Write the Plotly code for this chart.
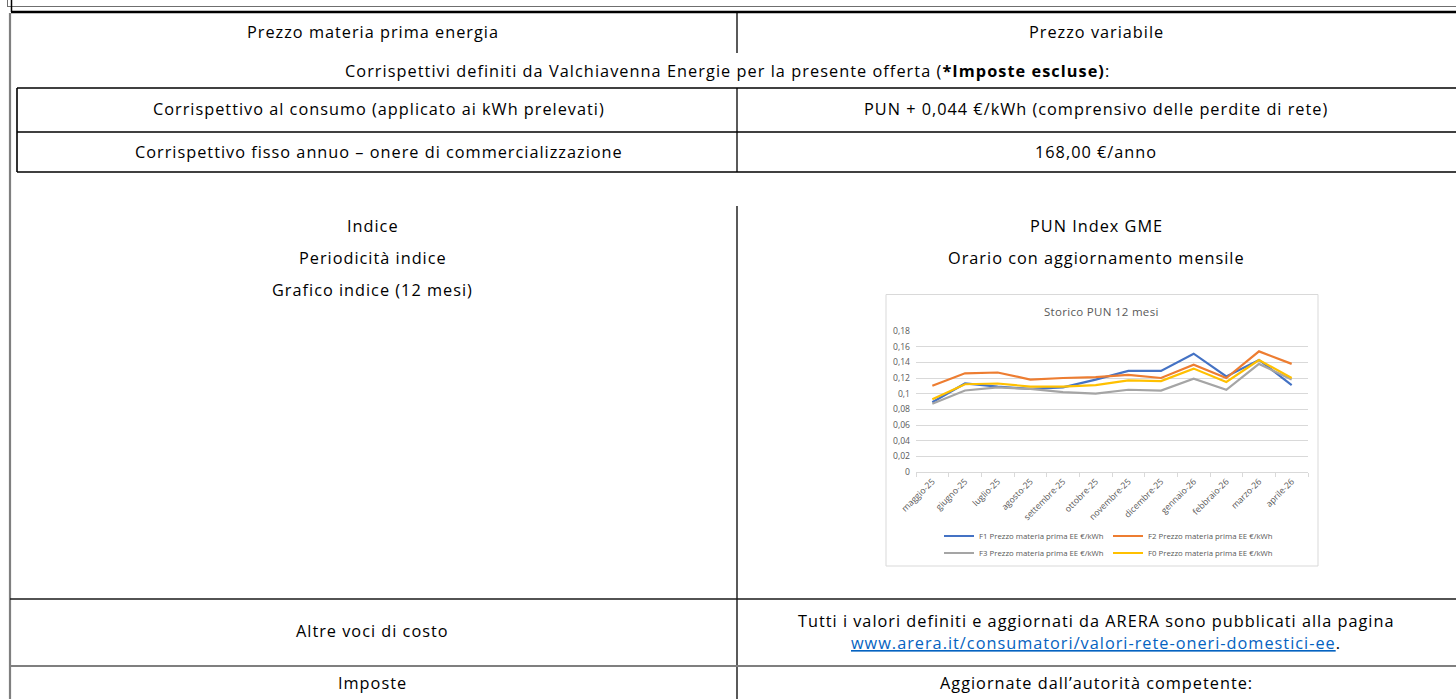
import plotly.graph_objects as go

W, H = 1456, 699          # browser window

# ---------------- data ----------------
months = ["maggio-25", "giugno-25", "luglio-25", "agosto-25", "settembre-25", "ottobre-25",
          "novembre-25", "dicembre-25", "gennaio-26", "febbraio-26", "marzo-26", "aprile-26"]
f1_values = [0.089, 0.113, 0.109, 0.106, 0.108, 0.118, 0.129, 0.129, 0.151, 0.122, 0.143, 0.111]
f2_values = [0.110, 0.126, 0.127, 0.118, 0.120, 0.121, 0.124, 0.120, 0.137, 0.120, 0.154, 0.138]
f3_values = [0.087, 0.104, 0.108, 0.106, 0.102, 0.100, 0.105, 0.104, 0.119, 0.105, 0.138, 0.118]
f0_values = [0.093, 0.112, 0.113, 0.109, 0.109, 0.111, 0.117, 0.116, 0.132, 0.115, 0.143, 0.120]
series_names = ["F1 Prezzo materia prima EE €/kWh", "F2 Prezzo materia prima EE €/kWh",
                "F3 Prezzo materia prima EE €/kWh", "F0 Prezzo materia prima EE €/kWh"]
series_colors = ["#4472c4", "#ed7d31", "#a5a5a5", "#ffc000"]
ytick_vals = [0, 0.02, 0.04, 0.06, 0.08, 0.10, 0.12, 0.14, 0.16, 0.18]
ytick_text = ["0", "0,02", "0,04", "0,06", "0,08", "0,1", "0,12", "0,14", "0,16", "0,18"]
chart_title = "Storico PUN 12 mesi"

# ---------------- helpers (window pixels -> paper) ----------------
def px(x):
    return x / W


def py(y):
    return 1 - y / H


FONT = "'Open Sans', Lato, sans-serif"
annotations = []
shapes = []


def txt(x, y, s, size=16.3, color="#000000", spacing=1.0):
    annotations.append(dict(x=px(x), y=py(y), xref="paper", yref="paper",
                            text=f"<span style='letter-spacing:{spacing}px'>{s}</span>",
                            showarrow=False, xanchor="center", yanchor="middle",
                            font=dict(family=FONT, size=size, color=color)))


def line(x0, y0, x1, y1, color="#000000", width=1.3):
    shapes.append(dict(type="line", xref="paper", yref="paper",
                       x0=px(x0), y0=py(y0), x1=px(x1), y1=py(y1),
                       line=dict(color=color, width=width), layer="above"))

# ---------------- table lines ----------------
GRAY = "#7f7f7f"
# top double frame
line(7, 6.5, W, 6.5, color="#6f6f6f", width=1.0)
line(11, 12, W, 12, color="#000000", width=2.5)
line(7.5, 0, 7.5, 7, color="#6f6f6f", width=1.0)
line(11.5, 0, 11.5, 12, color="#000000", width=1.5)
# main left border
line(10, 13, 10, H, color=GRAY, width=2.2)
# first row divider
line(737, 13, 737, 53, width=1.3)
# inner table
line(17, 88, W, 88, width=1.3)
line(17, 132, W, 132, width=1.3)
line(17, 172, W, 172, color="#404040", width=2)
line(17, 88, 17, 172, width=1.6)
line(737, 88, 737, 172, width=1.3)
# lower section
line(737, 206, 737, H, width=1.3)
line(10, 599, W, 599, color="#1a1a1a", width=1.6)
line(10, 666, W, 666, color=GRAY, width=2)

# ---------------- texts ----------------
txt(373, 32.5, "Prezzo materia prima energia")
txt(1096, 32.5, "Prezzo variabile")
txt(727, 70.5, "Corrispettivi definiti da Valchiavenna Energie per la presente offerta (<b>*Imposte escluse)</b>:",
    spacing=1.05)
txt(379, 109.5, "Corrispettivo al consumo (applicato ai kWh prelevati)")
txt(1096, 109.5, "PUN + 0,044 €/kWh (comprensivo delle perdite di rete)")
txt(379, 151.5, "Corrispettivo fisso annuo – onere di commercializzazione")
txt(1096, 151.5, "168,00 €/anno")
txt(373, 226, "Indice")
txt(1096, 226, "PUN Index GME")
txt(373, 258, "Periodicità indice")
txt(1096, 258, "Orario con aggiornamento mensile")
txt(373, 290, "Grafico indice (12 mesi)")
txt(373, 631, "Altre voci di costo")
txt(1096, 621, "Tutti i valori definiti e aggiornati da ARERA sono pubblicati alla pagina")
txt(1096, 643, "<span style='color:#0563c1;text-decoration:underline'>www.arera.it/consumatori/valori-rete-oneri-domestici-ee</span>.")
txt(373, 683, "Imposte")
txt(1096, 683, "Aggiornate dall’autorità competente:")

# chart frame
shapes.append(dict(type="rect", xref="paper", yref="paper",
                   x0=px(886), y0=py(566), x1=px(1318), y1=py(294.5),
                   line=dict(color="#d9d9d9", width=1), fillcolor="#ffffff", layer="below"))
txt(1101, 311, chart_title, size=11.5, color="#595959", spacing=0.3)

# ---------------- chart ----------------
fig = go.Figure()
all_values = [f1_values, f2_values, f3_values, f0_values]
legend_ids = ["legend", "legend", "legend2", "legend2"]
for name, vals, col, lg in zip(series_names, all_values, series_colors, legend_ids):
    fig.add_trace(go.Scatter(x=months, y=vals, mode="lines", name=name,
                             line=dict(color=col, width=2.2), legend=lg,
                             hoverinfo="skip"))

legend_common = dict(orientation="h", xanchor="left", yanchor="middle",
                     font=dict(size=7.8, color="#595959", family=FONT),
                     itemwidth=30, entrywidth=124, entrywidthmode="pixels",
                     bgcolor="rgba(0,0,0,0)", tracegroupgap=0, traceorder="normal",
                     itemclick=False, itemdoubleclick=False)

fig.update_layout(
    width=W, height=H,
    margin=dict(l=0, r=0, t=0, b=0, pad=0, autoexpand=False),
    paper_bgcolor="#ffffff", plot_bgcolor="rgba(0,0,0,0)",
    font=dict(family=FONT, color="#595959"),
    shapes=shapes, annotations=annotations,
    xaxis=dict(domain=[px(916), px(1308)], anchor="y",
               range=[-0.5, 11.5], type="category",
               showgrid=False, showline=True, linecolor="#d9d9d9", linewidth=1,
               ticks="outside", ticklen=4, tickcolor="#d9d9d9", tickson="boundaries",
               tickangle=-45, tickfont=dict(size=8.7, color="#595959", family=FONT),
               zeroline=False, automargin=False),
    yaxis=dict(domain=[py(472), py(331)], anchor="x",
               range=[0, 0.18], tickvals=ytick_vals, ticktext=ytick_text,
               showgrid=True, gridcolor="#d9d9d9", gridwidth=1,
               showline=False, zeroline=False, ticks="",
               ticklabelstandoff=5, automargin=False,
               tickfont=dict(size=8.6, color="#595959", family=FONT)),
    legend=dict(x=px(939), y=py(536), **legend_common),
    legend2=dict(x=px(939), y=py(553), **legend_common),
    showlegend=True,
)

post = """
var gd = document.getElementById('{plot_id}');
document.documentElement.style.margin = '0';
document.body.style.margin = '0';
document.documentElement.style.overflow = 'hidden';
document.body.style.overflow = 'hidden';
var w = window.innerWidth, h = window.innerHeight;
if (w > 0 && h > 0) {
  gd.style.width = w + 'px';
  gd.style.height = h + 'px';
  Plotly.relayout(gd, {width: w, height: h});
}
"""
fig.write_html("out.html", config={"displayModeBar": False}, post_script=post)
